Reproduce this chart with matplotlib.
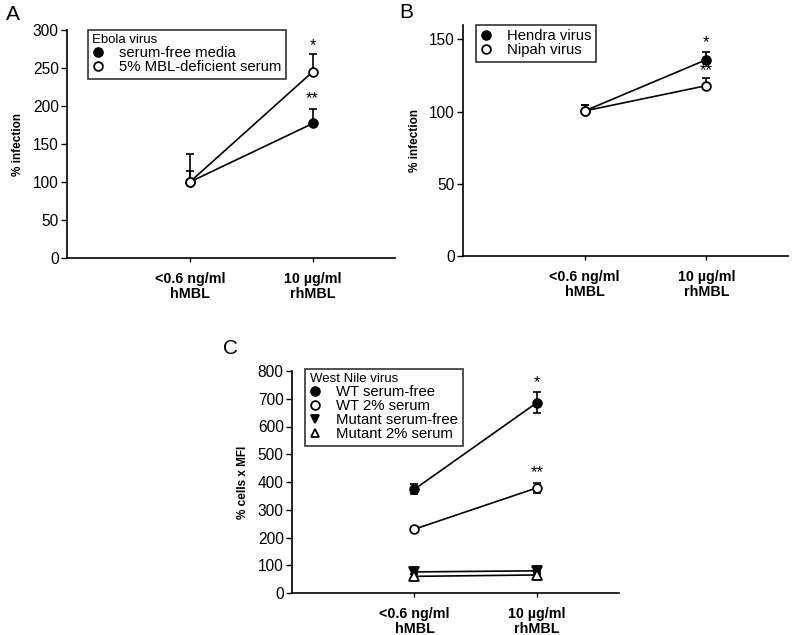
import matplotlib
matplotlib.use("Agg")
import matplotlib.pyplot as plt
from matplotlib.lines import Line2D

plt.rcParams['font.family'] = ['Liberation Sans', 'DejaVu Sans']

# shared x categories
cats = ['<0.6 ng/ml\nhMBL', '10 \u00b5g/ml\nrhMBL']
xpos = [1, 2]

# panel A - Ebola virus
ebola_free = [100, 177]
ebola_free_err = [15, 19]
ebola_serum = [100, 245]
ebola_serum_err = [37, 23]

# panel B - Hendra / Nipah
hendra = [100.5, 136]
hendra_err = [4, 5]
nipah = [100.5, 118]
nipah_err = [4, 5]

# panel C - West Nile virus
wt_free = [374, 686]
wt_free_err = [19, 37]
wt_serum = [230, 379]
wt_serum_err = [7, 17]
mut_free = [76, 80]
mut_free_err = [8, 10]
mut_serum = [60, 65]
mut_serum_err = [7, 9]

fig = plt.figure(figsize=(7.92, 6.35), dpi=100)
axA = fig.add_axes([67/792, 1-258/635, (395-67)/792, (258-30)/635])
axB = fig.add_axes([463/792, 1-256/635, (788-463)/792, (256-25)/635])
axC = fig.add_axes([292/792, 1-593/635, (619-292)/792, (593-371)/635])


def style(ax, ymax, yticks, ylabel):
    ax.set_xlim(0, 2.67)
    ax.set_ylim(0, ymax)
    ax.set_yticks(yticks)
    ax.set_xticks(xpos)
    ax.set_xticklabels(cats, fontsize=10.3, fontweight='bold', linespacing=1.1)
    ax.tick_params(axis='y', labelsize=11.2, length=4, width=1, pad=2)
    ax.tick_params(axis='x', length=3, width=1, pad=7)
    for s in ['top', 'right']:
        ax.spines[s].set_visible(False)
    for s in ['left', 'bottom']:
        ax.spines[s].set_linewidth(1.2)
    ax.set_ylabel(ylabel, fontsize=8.5, fontweight='bold', labelpad=6)


def series(ax, y, err, marker, filled, both=False, ms=6.3, z=3):
    lower = err if both else [0] * len(err)
    ax.errorbar(xpos, y, yerr=[lower, err], fmt='none', ecolor='black',
                elinewidth=1.2, capsize=3.2, capthick=1.2, zorder=z)
    ax.plot(xpos, y, color='black', lw=1.2, marker=marker, ms=ms,
            mfc='black' if filled else 'white', mec='black', mew=1.3, zorder=z + 1)


def legend(ax, title, labels, markers, fills, loc_xy):
    hs = [Line2D([], [], ls='none', marker=m, ms=6.3, mec='black', mew=1.3,
                 mfc='black' if f else 'white') for m, f in zip(markers, fills)]
    leg = ax.legend(hs, labels, title=title, loc='upper left', bbox_to_anchor=loc_xy,
                    fontsize=10.7, title_fontproperties={'size': 9.5},
                    frameon=True, fancybox=False, edgecolor='black',
                    handlelength=0.8, handletextpad=1.0, labelspacing=0.0,
                    borderpad=0.3, borderaxespad=0, alignment='left')
    leg.get_frame().set_linewidth(1.2)
    return leg


# A
style(axA, 300, [0, 50, 100, 150, 200, 250, 300], '% infection')
series(axA, ebola_free, ebola_free_err, 'o', True)
series(axA, ebola_serum, ebola_serum_err, 'o', False, z=5)
axA.text(2, 280, '*', ha='center', va='center', fontsize=12)
axA.text(2, 210, '**', ha='center', va='center', fontsize=12)
legend(axA, 'Ebola virus', ['serum-free media', '5% MBL-deficient serum'],
       ['o', 'o'], [True, False], (0.064, 1.0))
fig.text(6/792, 1-14/635, 'A', fontsize=15, va='center')

# B
style(axB, 160, [0, 50, 100, 150], '% infection')
series(axB, hendra, hendra_err, 'o', True)
series(axB, nipah, nipah_err, 'o', False, z=5)
axB.text(2, 148, '*', ha='center', va='center', fontsize=12)
axB.text(2, 128.5, '**', ha='center', va='center', fontsize=12)
legend(axB, None, ['Hendra virus', 'Nipah virus'], ['o', 'o'], [True, False], (0.04, 1.0))
fig.text(399/792, 1-12/635, 'B', fontsize=15, va='center')

# C
style(axC, 800, [0, 100, 200, 300, 400, 500, 600, 700, 800], '% cells x MFI')
series(axC, wt_free, wt_free_err, 'o', True, both=True)
series(axC, wt_serum, wt_serum_err, 'o', False, both=True)
series(axC, mut_free, mut_free_err, 'v', True, both=True, ms=7)
series(axC, mut_serum, mut_serum_err, '^', False, both=True, ms=7)
axC.text(2, 757, '*', ha='center', va='center', fontsize=12)
axC.text(2, 432, '**', ha='center', va='center', fontsize=12)
legend(axC, 'West Nile virus',
       ['WT serum-free', 'WT 2% serum', 'Mutant serum-free', 'Mutant 2% serum'],
       ['o', 'o', 'v', '^'], [True, False, True, False], (0.04, 1.01))
fig.text(223/792, 1-348/635, 'C', fontsize=15, va='center')

fig.savefig('out.png', dpi=100)
